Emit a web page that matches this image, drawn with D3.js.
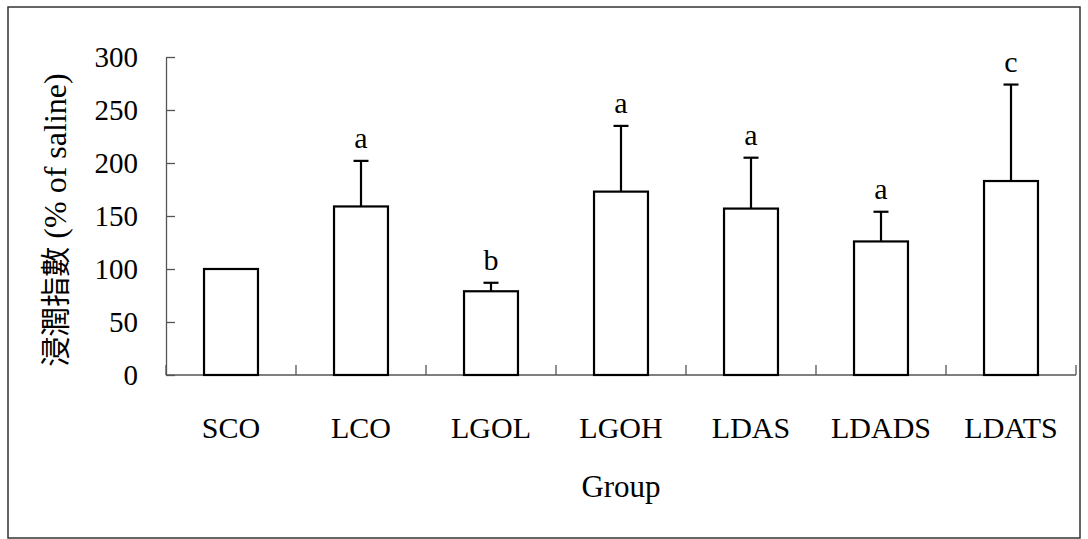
<!DOCTYPE html>
<html>
<head>
<meta charset="utf-8">
<script src="https://cdn.jsdelivr.net/npm/d3@7"></script>
<style>
  body { margin: 0; background: #fff; }
</style>
</head>
<body>
<script>
var groups = ["SCO", "LCO", "LGOL", "LGOH", "LDAS", "LDADS", "LDATS"];
var means = [100, 159, 79, 173, 157, 126, 183];
var errTops = [100, 202, 87, 235, 205, 154, 274];
var letters = ["", "a", "b", "a", "a", "a", "c"];
var yTicks = [0, 50, 100, 150, 200, 250, 300];

var width = 1088, height = 539;
var plot = {left: 166, right: 1076, top: 57, bottom: 375};
var serif = "'Liberation Serif', 'Times New Roman', 'DejaVu Serif', serif";

var svg = d3.select("body").append("svg")
    .attr("width", width)
    .attr("height", height)
    .attr("font-family", serif);

// outer frame
svg.append("rect")
    .attr("x", 8).attr("y", 7)
    .attr("width", 1072).attr("height", 531)
    .attr("fill", "none")
    .attr("stroke", "#333")
    .attr("stroke-width", 1.5);

var x = d3.scaleBand()
    .domain(groups)
    .range([plot.left, plot.right])
    .paddingInner(0.585)
    .paddingOuter(0.2925);

var y = d3.scaleLinear()
    .domain([0, 300])
    .range([plot.bottom, plot.top]);

// y axis (ticks inside)
var yAxis = svg.append("g")
    .attr("transform", "translate(" + plot.left + ",0)")
    .call(d3.axisRight(y).tickValues(yTicks).tickSize(9).tickSizeOuter(0).tickFormat(""));
yAxis.select(".domain").attr("stroke", "#555").attr("stroke-width", 1.3);
yAxis.selectAll(".tick line").attr("stroke", "#555").attr("stroke-width", 1.3);

svg.selectAll(".ylab")
    .data(yTicks)
    .enter().append("text")
    .attr("class", "ylab")
    .attr("x", plot.left - 28)
    .attr("y", function(d) { return y(d); })
    .attr("dy", "0.35em")
    .attr("text-anchor", "end")
    .attr("font-family", serif)
    .style("font-size", "29px")
    .text(function(d) { return d; });

// x axis: ticks between categories, pointing up
var step = x.step();
var bounds = d3.range(groups.length + 1).map(function(i) { return plot.left + i * step; });
svg.append("line")
    .attr("x1", plot.left).attr("x2", plot.right)
    .attr("y1", plot.bottom).attr("y2", plot.bottom)
    .attr("stroke", "#555").attr("stroke-width", 1.3);
svg.selectAll(".xtick")
    .data(bounds)
    .enter().append("line")
    .attr("class", "xtick")
    .attr("x1", function(d) { return d; }).attr("x2", function(d) { return d; })
    .attr("y1", plot.bottom).attr("y2", plot.bottom - 10)
    .attr("stroke", "#555").attr("stroke-width", 1.3);

// bars
svg.selectAll(".bar")
    .data(groups)
    .enter().append("rect")
    .attr("class", "bar")
    .attr("x", function(d) { return x(d); })
    .attr("y", function(d, i) { return y(means[i]); })
    .attr("width", x.bandwidth())
    .attr("height", function(d, i) { return y(0) - y(means[i]); })
    .attr("fill", "#fff")
    .attr("stroke", "#000")
    .attr("stroke-width", 2.2);

// error bars
var err = svg.selectAll(".err")
    .data(groups.filter(function(d, i) { return errTops[i] > means[i]; }))
    .enter().append("g")
    .attr("class", "err");
err.append("line")
    .attr("x1", function(d) { return x(d) + x.bandwidth() / 2; })
    .attr("x2", function(d) { return x(d) + x.bandwidth() / 2; })
    .attr("y1", function(d) { return y(means[groups.indexOf(d)]); })
    .attr("y2", function(d) { return y(errTops[groups.indexOf(d)]); })
    .attr("stroke", "#000").attr("stroke-width", 2.2);
err.append("line")
    .attr("x1", function(d) { return x(d) + x.bandwidth() / 2 - 7.5; })
    .attr("x2", function(d) { return x(d) + x.bandwidth() / 2 + 7.5; })
    .attr("y1", function(d) { return y(errTops[groups.indexOf(d)]); })
    .attr("y2", function(d) { return y(errTops[groups.indexOf(d)]); })
    .attr("stroke", "#000").attr("stroke-width", 2.2);

// significance letters
svg.selectAll(".sig")
    .data(groups)
    .enter().append("text")
    .attr("class", "sig")
    .attr("x", function(d) { return x(d) + x.bandwidth() / 2; })
    .attr("y", function(d, i) { return y(errTops[i]) - 13; })
    .attr("text-anchor", "middle")
    .attr("font-family", serif)
    .style("font-size", "30px")
    .text(function(d, i) { return letters[i]; });

// category labels
svg.selectAll(".xlab")
    .data(groups)
    .enter().append("text")
    .attr("class", "xlab")
    .attr("x", function(d) { return x(d) + x.bandwidth() / 2; })
    .attr("y", 438)
    .attr("text-anchor", "middle")
    .attr("font-family", serif)
    .style("font-size", "30px")
    .text(function(d) { return d; });

// axis titles
svg.append("text")
    .attr("x", (plot.left + plot.right) / 2)
    .attr("y", 497)
    .attr("text-anchor", "middle")
    .attr("font-family", serif)
    .style("font-size", "31px")
    .text("Group");

var ytitle = svg.append("text")
    .attr("transform", "translate(55,220) rotate(-90)")
    .attr("dy", "0.35em")
    .attr("text-anchor", "middle")
    .attr("font-family", serif)
    .style("font-size", "32px");
ytitle.append("tspan")
    .attr("font-family", "'Noto Sans CJK TC', sans-serif")
    .style("font-size", "30px")
    .text("浸潤指數");
ytitle.append("tspan").text(" (% of saline)");
</script>
</body>
</html>
